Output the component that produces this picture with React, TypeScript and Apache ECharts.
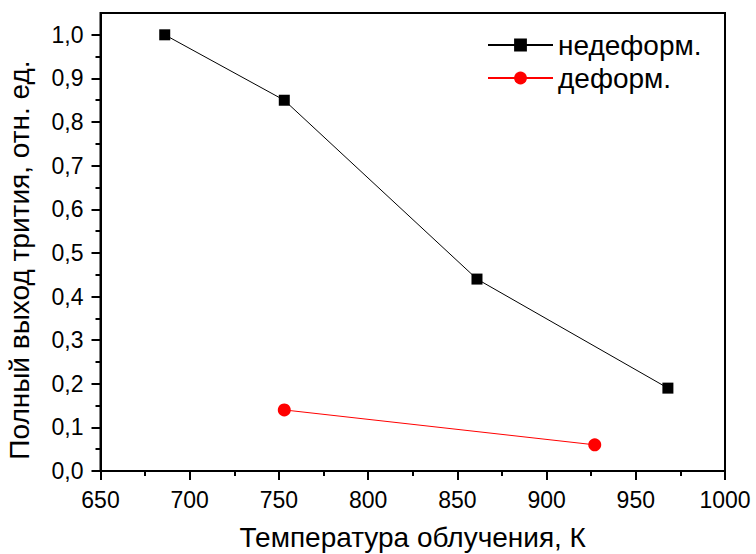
import React, { useEffect, useRef } from "react";
import * as echarts from "echarts";

const seriesNames = ["недеформ.", "деформ."];
const undeformedX = [686, 753, 861, 968];
const undeformedY = [1.0, 0.85, 0.44, 0.19];
const deformedX = [753, 927];
const deformedY = [0.14, 0.06];
const yMajorTicks = [0, 0.1, 0.2, 0.3, 0.4, 0.5, 0.6, 0.7, 0.8, 0.9, 1.0];
const yMinorTicks = [0.05, 0.15, 0.25, 0.35, 0.45, 0.55, 0.65, 0.75, 0.85, 0.95];
const xTitle = "Температура облучения, К";
const yTitle = "Полный выход трития, отн. ед.";

const FONT = "Liberation Sans, Arial, sans-serif";

export default function App() {
  const ref = useRef<HTMLDivElement>(null);
  useEffect(() => {
    if (!ref.current) return;
    const chart = echarts.init(ref.current, null, { renderer: "svg" });
    const zip = (xs: number[], ys: number[]) => xs.map((x, i) => [x, ys[i]]);
    chart.setOption({
      animation: false,
      backgroundColor: "#ffffff",
      textStyle: { fontFamily: FONT },
      grid: {
        left: 100.5,
        right: 31,
        top: 13,
        bottom: 83,
        outerBoundsMode: "none",
        containLabel: false,
        show: true,
        borderColor: "#000",
        borderWidth: 2,
        backgroundColor: "transparent",
      },
      legend: {
        orient: "vertical",
        left: 482,
        top: 26,
        itemWidth: 65,
        itemHeight: 16,
        itemGap: 5,
        textStyle: { fontFamily: FONT, fontSize: 28, color: "#000" },
        data: seriesNames,
      },
      xAxis: {
        type: "value",
        min: 650,
        max: 1000,
        interval: 50,
        name: xTitle,
        nameLocation: "middle",
        nameGap: 52,
        nameTextStyle: { fontFamily: FONT, fontSize: 28, color: "#000" },
        splitLine: { show: false },
        axisLine: { lineStyle: { color: "#000", width: 2 } },
        axisTick: { inside: false, length: 9, lineStyle: { color: "#000", width: 2 } },
        minorTick: { show: true, splitNumber: 2, length: 5, lineStyle: { color: "#000", width: 2 } },
        axisLabel: {
          fontFamily: FONT,
          fontSize: 23,
          color: "#000",
          margin: 17,
          formatter: (v: number) => String(v),
        },
      },
      yAxis: [
        {
          type: "value",
          min: 0,
          max: 1.05,
          name: yTitle,
          nameLocation: "middle",
          nameGap: 67,
          nameTextStyle: { fontFamily: FONT, fontSize: 28, color: "#000", padding: [0, 36, 0, 0] },
          splitLine: { show: false },
          axisLine: { lineStyle: { color: "#000", width: 2 } },
          axisTick: {
            inside: false,
            length: 9,
            customValues: yMajorTicks,
            lineStyle: { color: "#000", width: 2 },
          },
          axisLabel: {
            fontFamily: FONT,
            fontSize: 23,
            color: "#000",
            margin: 17,
            customValues: yMajorTicks,
            formatter: (v: number) => v.toFixed(1).replace(".", ","),
          },
        },
        {
          type: "value",
          min: 0,
          max: 1.05,
          position: "left",
          offset: 0,
          splitLine: { show: false },
          axisLine: { show: false },
          axisTick: {
            inside: false,
            length: 5,
            customValues: yMinorTicks,
            lineStyle: { color: "#000", width: 2 },
          },
          axisLabel: { show: false },
        },
      ],
      series: [
        {
          name: seriesNames[0],
          type: "line",
          data: zip(undeformedX, undeformedY),
          symbol: "rect",
          symbolSize: 11,
          itemStyle: { color: "#000" },
          lineStyle: { color: "#000", width: 1 },
        },
        {
          name: seriesNames[1],
          type: "line",
          data: zip(deformedX, deformedY),
          symbol: "circle",
          symbolSize: 13,
          itemStyle: { color: "#ff0000" },
          lineStyle: { color: "#ff0000", width: 1 },
        },
      ],
    });
    return () => chart.dispose();
  }, []);
  return (
    <div
      ref={ref}
      style={{ position: "fixed", left: 0, top: 0, width: 756, height: 554, background: "#fff" }}
    />
  );
}
